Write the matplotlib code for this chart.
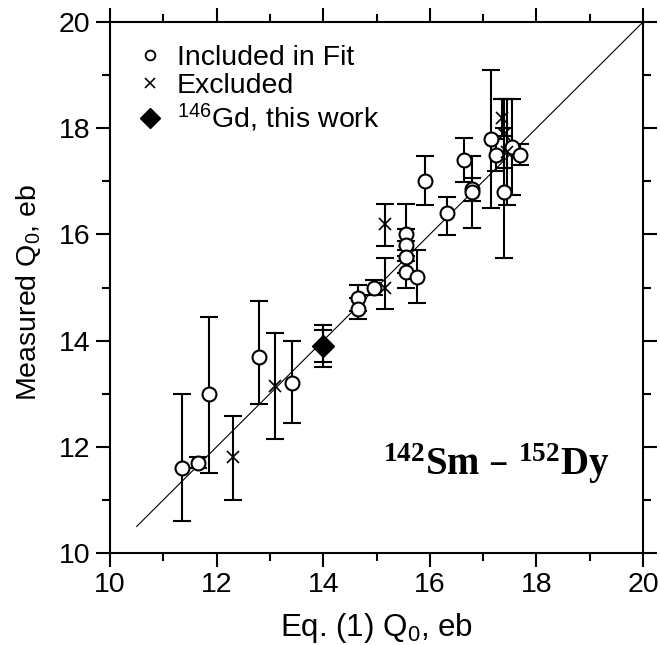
import matplotlib
matplotlib.use("Agg")
import matplotlib.pyplot as plt
from matplotlib.lines import Line2D

plt.rcParams["font.family"] = ["Liberation Sans", "DejaVu Sans"]

# Points included in the fit: Eq.(1) Q0, measured Q0, lower / upper error
inc_x = [11.35, 11.65, 11.85, 12.8, 13.42, 14.65, 14.65, 14.95, 15.55, 15.55, 15.55,
         15.55, 15.75, 15.9, 16.32, 16.65, 16.8, 16.8, 17.15, 17.25, 17.4, 17.55, 17.7]
inc_y = [11.6, 11.7, 13.0, 13.7, 13.2, 14.8, 14.6, 15.0, 16.0, 15.8, 15.57,
         15.3, 15.2, 17.0, 16.4, 17.4, 16.85, 16.8, 17.8, 17.5, 16.8, 17.65, 17.5]
inc_lo = [1.0, 0.1, 1.5, 0.9, 0.75, 0.25, 0.2, 0.15, 0.3, 0.3, 0.3,
          0.3, 0.5, 0.45, 0.42, 0.42, 0.22, 0.67, 1.3, 0.3, 1.25, 0.9, 0.2]
inc_hi = [1.4, 0.1, 1.45, 1.05, 0.8, 0.25, 0.2, 0.15, 0.57, 0.3, 0.3,
          0.3, 0.5, 0.47, 0.3, 0.42, 0.22, 0.67, 1.3, 0.3, 1.2, 0.9, 0.2]

# Excluded points
exc_x = [12.3, 13.1, 15.15, 15.15, 17.35, 17.4, 17.45]
exc_y = [11.8, 13.15, 15.0, 16.2, 18.2, 17.9, 17.55]
exc_lo = [0.8, 1.0, 0.4, 0.42, 0.35, 0.65, 1.0]
exc_hi = [0.78, 1.0, 0.56, 0.38, 0.35, 0.65, 1.0]

# 146Gd, this work (two error bars)
gd_x = [14.0]
gd_y = [13.9]
gd_err_outer = [0.4]
gd_err_inner = [0.3]

line_x = [10.5, 20.0]

fig = plt.figure(figsize=(6.6, 6.45), dpi=100)
ax = fig.add_axes([0.1667, 0.1426, 0.8076, 0.8233])

ax.plot(line_x, line_x, color="black", lw=0.8, zorder=1)

ebk = dict(fmt="none", ecolor="black", elinewidth=1.5, capsize=6.5, capthick=1.5, zorder=2)
ax.errorbar(inc_x, inc_y, yerr=[inc_lo, inc_hi], **ebk)
ax.errorbar(exc_x, exc_y, yerr=[exc_lo, exc_hi], **ebk)
ax.errorbar(gd_x, gd_y, yerr=gd_err_outer, **ebk)
ax.errorbar(gd_x, gd_y, yerr=gd_err_inner, **ebk)

ax.plot(inc_x, inc_y, "o", ms=10, mfc="white", mec="black", mew=1.5, zorder=3)
ax.plot(exc_x, exc_y, "x", ms=9, color="black", mew=1.2, zorder=3)
ax.plot(gd_x, gd_y, "D", ms=11, color="black", zorder=4)

ax.set_xlim(10, 20)
ax.set_ylim(10, 20)
ax.set_xticks([10, 12, 14, 16, 18, 20])
ax.set_yticks([10, 12, 14, 16, 18, 20])
ax.set_xticks([11, 13, 15, 17, 19], minor=True)
ax.set_yticks([11, 13, 15, 17, 19], minor=True)
ax.tick_params(which="both", direction="out", top=True, right=True, width=1.5, labelsize=20.5)
ax.tick_params(which="major", length=10, pad=4)
ax.tick_params(which="minor", length=6)
for sp in ax.spines.values():
    sp.set_linewidth(1.5)

ax.set_xlabel(r"Eq. (1) Q$\mathdefault{_0}$, eb", fontsize=22.5, labelpad=9)
ax.set_ylabel(r"Measured Q$\mathdefault{_0}$, eb", fontsize=20.5)
ax.yaxis.set_label_coords(-0.125, 0.49)

handles = [
    Line2D([], [], ls="none", marker="o", ms=7, mfc="white", mec="black", mew=1.3),
    Line2D([], [], ls="none", marker="x", ms=7, color="black", mew=1.2),
    Line2D([], [], ls="none", marker="D", ms=10, color="black"),
]
labels = ["Included in Fit", "Excluded", r"$\mathdefault{^{146}}$Gd, this work"]
ax.legend(handles, labels, loc="upper left", frameon=False, fontsize=20.5,
          handlelength=1.0, handletextpad=0.45, labelspacing=0.1,
          borderaxespad=0.3, bbox_to_anchor=(0.01, 0.995))

ax.text(15.12, 11.47, r"$\mathdefault{^{142}}$Sm – $\mathdefault{^{152}}$Dy",
        fontsize=28, fontweight="bold", family="Liberation Serif",
        ha="left", va="baseline")

fig.savefig("out.png", dpi=100)
